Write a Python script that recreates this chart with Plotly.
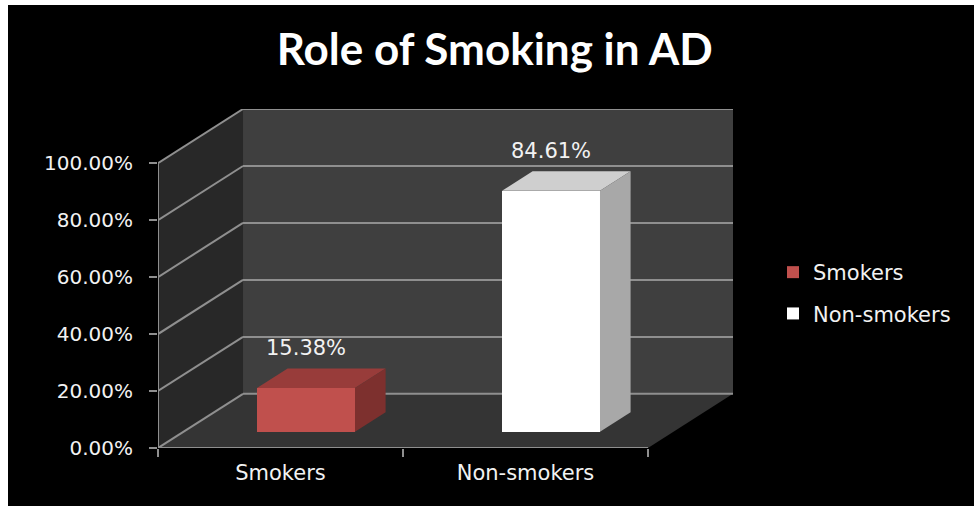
import plotly.graph_objects as go

# ---- data ----
categories = ["Smokers", "Non-smokers"]
values = [0.1538, 0.8461]
value_labels = ["15.38%", "84.61%"]
y_ticks = [0.0, 0.2, 0.4, 0.6, 0.8, 1.0]

# ---- style ----
front_colors = ["#C0504D", "#FFFFFF"]
top_colors = ["#983C3A", "#CFCFCF"]
side_colors = ["#7D302E", "#A8A8A8"]
GRID = "#8F8F8F"
TEXT = "#F2F2F2"

# oblique 3D geometry (axis units)
DX, DY = 0.347, 0.19      # depth offset of the back wall
F0, FB = 0.30, 0.36       # bar front depth fraction, bar depth fraction
BAR_W = 0.40

W, H = 974, 506
ML, MR, MT, MB = 158, 241, 109, 58
PW, PH = W - ML - MR, H - MT - MB

fig = go.Figure()

# bar side & top faces
for i, (cat, v) in enumerate(zip(categories, values)):
    xc = i + F0 * DX
    xl, xr = xc - BAR_W / 2, xc + BAR_W / 2
    yb = F0 * DY
    yt = yb + v
    ddx, ddy = FB * DX, FB * DY
    fig.add_trace(go.Scatter(
        x=[xl, xr, xr + ddx, xl + ddx, xl], y=[yt, yt, yt + ddy, yt + ddy, yt],
        fill="toself", fillcolor=top_colors[i], mode="lines", line=dict(width=0),
        showlegend=False, hoverinfo="skip"))
    fig.add_trace(go.Scatter(
        x=[xr, xr, xr + ddx, xr + ddx, xr], y=[yb, yt, yt + ddy, yb + ddy, yb],
        fill="toself", fillcolor=side_colors[i], mode="lines", line=dict(width=0),
        showlegend=False, hoverinfo="skip"))

# bar front faces
for i, (cat, v) in enumerate(zip(categories, values)):
    fig.add_trace(go.Bar(
        x=[i + F0 * DX], y=[v], base=[F0 * DY], width=BAR_W, name=cat,
        marker=dict(color=front_colors[i], line=dict(width=0)),
        legendgroup=cat))

shapes = []
xa, xb = -0.5, len(categories) - 0.5
# side wall
shapes.append(dict(type="path", xref="x", yref="y", layer="below", line=dict(width=0),
                   fillcolor="#282828",
                   path=f"M {xa} 0 L {xa} {y_ticks[-1]} L {xa+DX} {y_ticks[-1]+DY} L {xa+DX} {DY} Z"))
# back wall
shapes.append(dict(type="rect", xref="x", yref="y", layer="below", line=dict(width=0),
                   fillcolor="#3F3F3F", x0=xa + DX, x1=xb + DX, y0=DY, y1=y_ticks[-1] + DY))
# floor
shapes.append(dict(type="path", xref="x", yref="y", layer="below", line=dict(width=0),
                   fillcolor="#343434",
                   path=f"M {xa} 0 L {xb} 0 L {xb+DX} {DY} L {xa+DX} {DY} Z"))
# gridlines
for t in y_ticks:
    shapes.append(dict(type="line", xref="x", yref="y", layer="below",
                       line=dict(color=GRID, width=2),
                       x0=xa + DX, x1=xb + DX, y0=t + DY, y1=t + DY))
    shapes.append(dict(type="line", xref="x", yref="y", layer="below",
                       line=dict(color=GRID, width=2),
                       x0=xa, x1=xa + DX, y0=t, y1=t + DY))
# front axis lines
shapes.append(dict(type="line", xref="x", yref="y", layer="below",
                   line=dict(color=GRID, width=2), x0=xa, x1=xa, y0=0, y1=y_ticks[-1]))
shapes.append(dict(type="line", xref="x", yref="y", layer="below",
                   line=dict(color=GRID, width=2), x0=xa, x1=xb, y0=0, y1=0))
# white outer strips (left & top)
shapes.append(dict(type="rect", xref="paper", yref="paper", layer="above", line=dict(width=0),
                   fillcolor="white", x0=-ML / PW, x1=(8 - ML) / PW,
                   y0=-MB / PH, y1=1 + MT / PH))
shapes.append(dict(type="rect", xref="paper", yref="paper", layer="above", line=dict(width=0),
                   fillcolor="white", x0=-ML / PW, x1=1 + MR / PW,
                   y0=1 + (MT - 5) / PH, y1=1 + MT / PH))

annotations = []
for i, (v, lab) in enumerate(zip(values, value_labels)):
    annotations.append(dict(x=i + F0 * DX, y=v + F0 * DY + FB * DY, text=lab,
                            showarrow=False, yanchor="bottom", yshift=6,
                            font=dict(family="DejaVu Sans", size=21, color=TEXT)))

fig.update_layout(
    width=W, height=H,
    margin=dict(l=ML, r=MR, t=MT, b=MB, pad=0),
    paper_bgcolor="black", plot_bgcolor="black",
    title=dict(text="Role of Smoking in AD", x=0.508, xanchor="center",
               y=1 - 50 / H, yanchor="middle",
               font=dict(family="Lato", size=44, color="white", weight="bold")),
    shapes=shapes, annotations=annotations,
    showlegend=True,
    legend=dict(x=(773 - ML) / PW, xanchor="left", y=(448 - 252) / PH, yanchor="top",
                traceorder="grouped", tracegroupgap=11,
                font=dict(family="DejaVu Sans", size=21, color=TEXT),
                bgcolor="rgba(0,0,0,0)"),
    bargap=0,
)
fig.update_xaxes(range=[xa, xb + DX], showgrid=False, zeroline=False, showline=False,
                 tickvals=list(range(len(categories))), ticktext=categories, ticks="",
                 tickfont=dict(family="DejaVu Sans", size=21, color=TEXT),
                 ticklabelstandoff=10,
                 minor=dict(tickvals=[xa + k for k in range(len(categories) + 1)],
                            ticks="outside", ticklen=8, tickcolor=GRID, tickwidth=2,
                            showgrid=False),
                 fixedrange=True)
fig.update_yaxes(range=[0, y_ticks[-1] + DY], showgrid=False, zeroline=False, showline=False,
                 tickvals=y_ticks, tickformat=".2%", ticks="outside", ticklen=8,
                 tickcolor=GRID, tickwidth=2, ticklabelstandoff=12,
                 tickfont=dict(family="DejaVu Sans", size=20, color=TEXT),
                 fixedrange=True)

fig.write_html("out.html")
